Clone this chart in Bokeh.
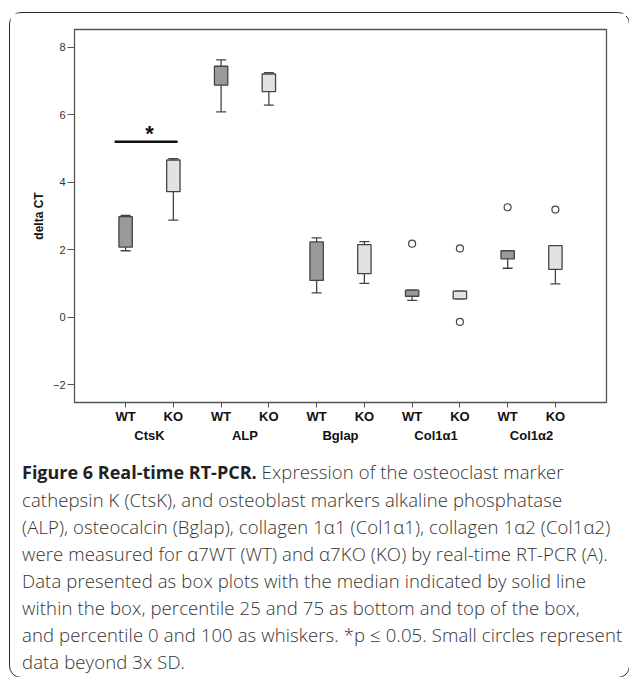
from bokeh.plotting import figure
from bokeh.models import FactorRange, FixedTicker, Whisker, ColumnDataSource, Div
from bokeh.layouts import column
from bokeh.embed import file_html
from bokeh.resources import INLINE
from bokeh.core.properties import value

# ---- data ----
genes = ["CtsK", "ALP", "Bglap", "Col1\u03b11", "Col1\u03b12"]
groups = ["WT", "KO"]
whisker_low = [1.97, 2.88, 6.09, 6.29, 0.72, 1.00, 0.50, 0.54, 1.45, 0.99]
q1          = [2.08, 3.72, 6.88, 6.69, 1.09, 1.29, 0.62, 0.54, 1.73, 1.42]
median      = [2.85, 3.84, 7.12, 7.10, 1.51, 1.61, 0.76, 0.58, 1.88, 1.79]
q3          = [2.98, 4.66, 7.44, 7.21, 2.23, 2.15, 0.80, 0.77, 1.97, 2.12]
whisker_high= [3.02, 4.70, 7.63, 7.25, 2.35, 2.24, 0.80, 0.77, 1.97, 2.12]
outlier_gene  = ["Col1\u03b11", "Col1\u03b11", "Col1\u03b11", "Col1\u03b12", "Col1\u03b12"]
outlier_group = ["WT", "KO", "KO", "WT", "KO"]
outlier_value = [2.18, 2.04, -0.14, 3.26, 3.19]
sig_value = 5.2
y_ticks = [-2, 0, 2, 4, 6, 8]

caption_title = "Figure 6 Real-time RT-PCR."
caption_lines = [
    " Expression of the osteoclast marker",
    "cathepsin K (CtsK), and osteoblast markers alkaline phosphatase",
    "(ALP), osteocalcin (Bglap), collagen 1\u03b11 (Col1\u03b11), collagen 1\u03b12 (Col1\u03b12)",
    "were measured for \u03b17WT (WT) and \u03b17KO (KO) by real-time RT-PCR (A).",
    "Data presented as box plots with the median indicated by solid line",
    "within the box, percentile 25 and 75 as bottom and top of the box,",
    "and percentile 0 and 100 as whiskers. *p \u2264 0.05. Small circles represent",
    "data beyond 3x SD.",
]

factors = [(g, s) for g in genes for s in groups]
fills = ["#9a9a9a" if s == "WT" else "#e2e2e2" for g, s in factors]

src = ColumnDataSource(dict(x=factors, lo=whisker_low, q1=q1, med=median, q3=q3,
                            hi=whisker_high, fill=fills))

W = 616
p = figure(width=W, height=437, output_backend="svg", toolbar_location=None,
           x_range=FactorRange(*factors, group_padding=0, factor_padding=0,
                               range_padding=0.114),
           y_range=(-2.53, 8.53),
           min_border_left=64, min_border_right=20, min_border_top=16,
           min_border_bottom=48)
p.background_fill_color = "white"
p.border_fill_color = "white"
p.outline_line_color = "#555555"
p.outline_line_width = 1.3
p.grid.grid_line_color = None

# whiskers (underlay so the boxes cover them)
wk = Whisker(base="x", lower="lo", upper="hi", source=src, level="underlay",
             line_color="#444444", line_width=1.3)
for head in (wk.upper_head, wk.lower_head):
    head.size = 10
    head.line_color = "#444444"
    head.line_width = 1.3
p.add_layout(wk)

p.vbar(x="x", bottom="q1", top="q3", width=0.28, source=src, fill_color="fill",
       line_color="#444444", line_width=1.3)
p.rect(x="x", y="med", width=0.28, height=0, source=src, line_color="#111111",
       line_width=2.2)

p.scatter(x=list(zip(outlier_gene, outlier_group)), y=outlier_value, size=7,
          marker="circle", fill_color="white", line_color="#444444", line_width=1.2)

# significance bar between CtsK WT and KO
p.segment(x0=[("CtsK", "WT", -0.23)], x1=[("CtsK", "KO", 0.09)], y0=[sig_value],
          y1=[sig_value], line_color="#111111", line_width=2.5)
p.text(x=[("CtsK", "WT", 0.5)], y=[sig_value], text=["*"], text_align="center",
       text_baseline="bottom", y_offset=4, text_font=value("Liberation Sans"),
       text_font_size="22px", text_font_style="bold", text_color="#111111")

# axes
ya = p.yaxis[0]
ya.ticker = FixedTicker(ticks=y_ticks)
ya.minor_tick_line_color = None
ya.major_tick_in = 0
ya.major_tick_out = 7
ya.major_label_standoff = 2
ya.axis_line_color = "#555555"
ya.major_tick_line_color = "#555555"
ya.major_label_text_font = "Liberation Sans"
ya.major_label_text_font_size = "11px"
ya.major_label_text_color = "#333333"
ya.axis_label = "delta CT"
ya.axis_label_text_font = "Liberation Sans"
ya.axis_label_text_font_style = "bold"
ya.axis_label_text_font_size = "12px"
ya.axis_label_text_color = "#111111"
ya.axis_label_standoff = 4

xa = p.xaxis[0]
xa.major_tick_in = 0
xa.major_tick_out = 5
xa.major_label_standoff = 1
xa.axis_line_color = "#555555"
xa.major_tick_line_color = "#555555"
xa.major_label_text_font = "Liberation Sans"
xa.major_label_text_font_size = "13px"
xa.major_label_text_font_style = "bold"
xa.major_label_text_color = "#111111"
xa.group_text_font = "Liberation Sans"
xa.group_text_font_size = "13px"
xa.group_text_font_style = "bold"
xa.group_text_color = "#111111"
xa.separator_line_color = None

pad = 7
html = ("<b style='color:#222;font-weight:700;font-size:18px;letter-spacing:0'>"
        + caption_title + "</b>" + caption_lines[0]
        + "<br>" + "<br>".join(caption_lines[1:]))
cap = Div(text=html, width=W - pad, height=217,
          styles={"font-family": "'Open Sans'", "font-size": "18.5px",
                  "font-weight": "300", "letter-spacing": "0.12px",
                  "line-height": "27px", "color": "#333333", "white-space": "nowrap",
                  "padding-left": f"{pad}px", "padding-top": "3px"})

root = column(p, cap, spacing=0,
              styles={"border": "1.5px solid #2a2a2a", "border-radius": "12px",
                      "margin-left": "9px", "margin-top": "12px",
                      "background": "white"})

open("out.html", "w").write(file_html(root, INLINE))
